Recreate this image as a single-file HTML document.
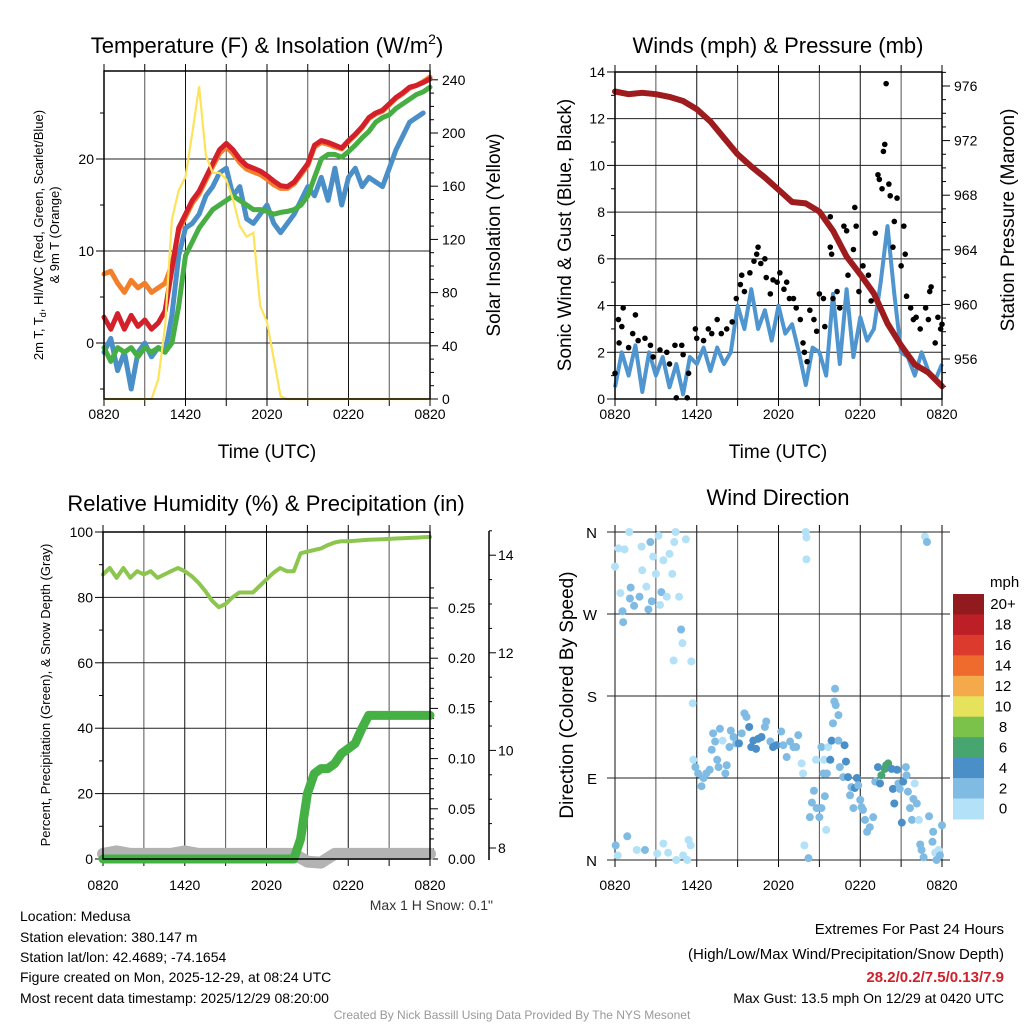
<!DOCTYPE html>
<html><head><meta charset="utf-8">
<style>
html,body{margin:0;padding:0;background:#fff;}
svg{display:block;font-family:"Liberation Sans",Arial,sans-serif;}
</style></head>
<body>
<svg id="chart" width="1024" height="1024" viewBox="0 0 1024 1024" xmlns="http://www.w3.org/2000/svg">
<rect width="1024" height="1024" fill="#fff"/>
<text x="267" y="53" font-size="22" text-anchor="middle">Temperature (F) &amp; Insolation (W/m<tspan font-size="14" dy="-9">2</tspan><tspan dy="9">)</tspan></text>
<text x="778" y="53" font-size="22" text-anchor="middle">Winds (mph) &amp; Pressure (mb)</text>
<text x="266" y="511" font-size="22" text-anchor="middle">Relative Humidity (%) &amp; Precipitation (in)</text>
<text x="778" y="505" font-size="22" text-anchor="middle">Wind Direction</text>

<text transform="translate(43,235) rotate(-90)" font-size="13" text-anchor="middle">2m T, T<tspan font-size="9" dy="3">d</tspan><tspan dy="-3">, HI/WC (Red, Green, Scarlet/Blue)</tspan></text>
<text transform="translate(59,235) rotate(-90)" font-size="13" text-anchor="middle">&amp; 9m T (Orange)</text>
<text transform="translate(500,235) rotate(-90)" font-size="19" text-anchor="middle">Solar Insolation (Yellow)</text>
<text x="267" y="458" font-size="19" text-anchor="middle">Time (UTC)</text>
<text transform="translate(571,235) rotate(-90)" font-size="19" text-anchor="middle">Sonic Wind &amp; Gust (Blue, Black)</text>
<text transform="translate(1014,220) rotate(-90)" font-size="19" text-anchor="middle">Station Pressure (Maroon)</text>
<text x="778" y="458" font-size="19" text-anchor="middle">Time (UTC)</text>
<text transform="translate(50,695) rotate(-90)" font-size="13" text-anchor="middle">Percent, Precipitation (Green), &amp; Snow Depth (Gray)</text>
<text transform="translate(573,695) rotate(-90)" font-size="19" text-anchor="middle">Direction (Colored By Speed)</text>

<text x="493" y="910" font-size="14" text-anchor="end" fill="#333">Max 1 H Snow: 0.1"</text>
<g font-size="14" fill="#000">
<text x="20" y="921">Location: Medusa</text>
<text x="20" y="942">Station elevation: 380.147 m</text>
<text x="20" y="962">Station lat/lon: 42.4689; -74.1654</text>
<text x="20" y="982">Figure created on Mon, 2025-12-29, at 08:24 UTC</text>
<text x="20" y="1003">Most recent data timestamp: 2025/12/29 08:20:00</text>
</g>
<g font-size="15" text-anchor="end">
<text x="1004" y="934">Extremes For Past 24 Hours</text>
<text x="1004" y="959">(High/Low/Max Wind/Precipitation/Snow Depth)</text>
<text x="1004" y="982" fill="#d0202a" font-weight="bold">28.2/0.2/7.5/0.13/7.9</text>
<text x="1004" y="1003" font-size="14">Max Gust: 13.5 mph On 12/29 at 0420 UTC</text>
</g>
<text x="512" y="1019" font-size="12" fill="#999" text-anchor="middle">Created By Nick Bassill Using Data Provided By The NYS Mesonet</text>
<g id="layer"></g>
</svg>
<script>
// ---------- data ----------
const timeLabels = ["0820","1420","2020","0220","0820"];
const halfHours = Array.from({length:49},(_, i)=>i*0.5);
// Temperature (F)
const tempRed = [2.8,1.5,3.2,1.5,3,1.8,2.5,1.5,2.2,3.5,8,12.5,14,15.5,16.5,18,19.5,21,21.7,21,20,19.3,19,18.7,18.2,17.6,17.1,17,17.5,18.5,19.5,21.5,22,21.8,21.5,21.2,22,22.7,23.5,24.5,25,25.3,26,26.7,27.2,27.8,28,28.3,28.7];
const temp9m = [7.5,7.8,6.5,5.5,6.8,6,6.5,5.5,6,6.5,8.5,12.2,13.7,15.2,16.2,17.7,19.2,20.6,21.3,20.6,19.6,18.9,18.6,18.3,17.8,17.2,16.8,16.8,17.3,18.3,19.3,21.3,21.8,21.6,21.3,21.1,21.9,22.6,23.4,24.4,24.9,25.2,25.9,26.6,27.1,27.7,28,28.4,28.9];
const dewGreen = [-0.5,-2,-0.5,-1,-0.5,-1.5,-0.5,-1,-0.5,-1,0,4,9.5,11,12.5,13.5,14.5,15,15.5,16,15.5,15,14.5,14.5,14.3,14,14.2,14.3,14.5,15,16,18,20,20.5,20.5,20.2,20.8,21.5,22.3,23,24,24.5,24.8,25.5,26,26.5,27,27.3,27.8];
const windChill = [-1,0.5,-3,-1,-5,-1,0,-1.5,-0.5,-1,3,9.5,12.5,13,14,16,17,18.5,19,16,17,13.5,13,14,15,13,12,13,14,15.5,17,16,18,15.5,19,15,18,19,17,18,17.5,17,19,21,22.5,24,24.5,25,null];
const solar = [0,0,0,0,0,0,0,0,15,55,135,157,167,200,235,183,170,170,165,150,130,122,125,70,58,30,2,0,0,0,0,0,0,0,0,0,0,0,0,0,0,0,0,0,0,0,0,0,0];
// Winds
const windSpeed = [0.5,2.0,1.0,2.3,0.3,2.0,1.0,1.8,0.5,1.5,0.2,1.8,1.5,2.2,1.2,2.2,1.5,2.0,4.0,3.0,4.7,3.0,3.8,2.5,4.0,2.8,3.2,2.0,0.6,2.2,2.0,1.0,4.5,1.5,4.7,1.8,3.5,2.5,3.0,5.0,7.4,4.5,2.0,1.8,1.0,2.0,1.2,0.8,1.5];
const hourly = Array.from({length:25},(_, i)=>i);
const pressure = [975.6,975.4,975.5,975.4,975.2,974.9,974.3,973.4,972.2,971.0,970.1,969.3,968.4,967.5,967.4,966.8,965.4,963.5,962.2,960.8,958.6,957.0,955.6,955.0,954.0];
const gustHours = [0,0.25,0.3,0.6,0.5,1.0,1.3,1.5,1.7,2.2,2.6,2.8,3.3,3.8,4.0,4.4,4.9,5.0,5.4,5.9,6.0,6.5,6.85,7.1,7.5,7.8,8.2,8.6,8.9,9.2,9.3,9.5,9.9,10.2,10.4,10.5,10.7,11.0,11.1,11.4,11.6,11.9,12.1,12.4,12.6,12.8,13.1,13.3,13.6,13.8,13.9,14.1,14.3,14.6,14.8,15.0,15.3,15.4,15.8,15.9,15.8,16.0,16.3,16.5,16.8,17.0,17.1,17.5,17.6,17.7,17.9,18.2,18.6,18.8,19.1,19.3,19.4,19.6,19.7,19.8,19.9,20.1,20.2,20.4,20.5,20.7,21.0,21.2,21.3,21.4,21.7,21.9,22.1,22.4,22.8,23.0,23.1,23.2,23.5,23.7,23.9,24.0,4.5,5.3];
const gustValues = [1.1,3.4,2.4,3.9,3.1,2.2,2.8,3.6,2.5,2.6,2.3,1.8,2.1,2.0,1.5,2.3,2.3,1.9,1.1,3.0,2.6,2.5,3.0,2.8,3.4,2.8,3.0,3.3,4.3,4.9,5.3,4.6,5.4,5.9,6.2,6.5,5.8,6.0,5.2,4.5,5.1,5.0,5.4,4.7,5.0,4.3,4.3,3.9,3.4,2.4,2.0,1.6,3.8,3.4,2.9,4.5,4.3,3.1,7.8,6.2,6.5,4.3,4.6,3.9,7.4,7.2,5.3,6.4,8.2,7.4,4.6,5.7,5.3,4.2,7.1,9.6,9.4,9.0,10.6,10.9,13.5,9.2,8.7,6.5,7.6,8.6,5.7,7.4,6.2,4.4,3.9,3.4,3.5,3.0,3.9,3.4,4.6,4.8,2.4,3.5,3.0,3.2,0.05,0.05];
// Humidity / precip / snow
const rh = [87,89,86,89,86,88,87,88,86,87,88,89,88,86.5,84.5,82,79,77,78,80,81.5,81.5,81.5,83.5,85.5,87.5,89,88,88,93.5,94,94.5,95,96,96.8,97.2,97.2,97.3,97.5,97.6,97.7,97.8,97.9,98,98.1,98.2,98.3,98.4,98.5];
const precip = [0,0,0,0,0,0,0,0,0,0,0,0,0,0,0,0,0,0,0,0,0,0,0,0,0,0,0,0,0,0.02,0.065,0.085,0.09,0.09,0.095,0.105,0.11,0.115,0.13,0.143,0.143,0.143,0.143,0.143,0.143,0.143,0.143,0.143,0.143];
const snowDepth = [7.88,7.93,7.88,7.88,7.88,7.88,7.93,7.88,7.88,7.88,7.88,7.88,7.88,7.88,7.88,7.72,7.7,7.88,7.88,7.88,7.88,7.88,7.88,7.88,7.88];
// Wind direction
const dirHours = [0,0.25,0.7,1.05,0.4,0.55,0.6,1.15,1.1,1.4,1.8,1.95,2.0,2.3,2.45,2.6,2.7,2.8,3.0,3.2,3.3,3.4,3.55,3.8,4.0,4.2,4.35,4.45,4.7,4.85,4.95,4.3,5.2,5.6,5.7,
0.05,0.2,0.9,1.6,2.2,3.1,3.55,3.9,4.5,5.0,5.3,5.4,5.55,
5.75,5.9,6.1,6.35,6.5,6.7,6.95,7.1,7.2,7.35,7.5,7.6,7.7,7.9,8.1,8.2,8.4,8.5,8.7,8.9,9.1,9.3,9.5,9.65,9.85,10.0,10.15,10.35,10.5,10.75,11.0,11.1,11.4,11.6,11.85,12.2,12.35,12.6,12.85,13.1,13.3,13.45,13.7,13.8,
14.0,14.05,14.05,13.9,14.2,14.3,14.45,14.6,14.8,15.0,15.15,15.3,15.4,15.5,14.75,15.15,15.35,15.55,15.65,15.8,15.9,16.0,16.1,16.15,16.2,16.4,16.4,16.5,16.75,16.85,16.95,17.1,17.25,17.35,17.5,17.6,17.75,17.85,18.0,18.1,18.2,18.35,18.5,18.7,18.95,19.1,19.3,19.45,19.55,19.8,19.9,20.05,20.3,20.4,20.5,20.7,20.8,20.9,21.05,21.15,21.35,21.4,21.5,21.65,21.8,21.9,22.0,22.15,22.3,22.4,22.5,22.65,22.75,22.9,23.05,23.3,23.35,23.5,23.6,23.75,23.85,24];
const dirDegrees = [322,342,341,360,293,273,261,299,287,279,289,344,318,300,275,349,284,333,314,356,280,294,329,289,336,314,349,360,289,253,238,219,352,218,172,
16,5,26,11,11,7,18,8,0,5,0,22,16,
110,102,95,81,90,95,99,121,139,130,110,102,144,131,95,104,124,142,135,128,128,139,161,157,146,124,131,122,133,135,146,152,130,124,126,141,126,113,130,124,124,137,106,95,
360,354,330,16,2,47,63,76,57,47,57,95,70,33,110,124,110,95,124,110,131,150,174,188,170,159,131,102,91,126,108,91,71,80,57,79,90,82,66,58,55,44,31,36,47,86,102,84,93,100,104,106,100,78,62,99,84,78,41,86,102,93,75,57,44,67,84,62,44,17,11,3,355,349,48,20,31,8,0,11,5,38];
const dirSpeeds = [1,1,1,1,1,3,3,3,3,3,3,1,1,1,3,3,3,1,1,1,1,3,1,1,1,1,1,1,1,3,1,1,1,1,1,
3,1,3,1,3,1,1,1,1,1,1,1,1,
1,3,3,3,3,3,3,3,3,3,3,3,3,1,3,3,3,3,3,3,5,3,3,3,5,5,5,5,5,5,3,3,3,5,5,3,3,3,3,3,3,3,1,1,
1,1,1,1,3,3,3,3,3,3,3,3,3,1,1,3,1,3,1,5,5,3,3,3,3,3,3,3,3,5,5,5,3,3,3,5,5,3,3,3,3,3,3,3,3,3,5,5,7,7,7,7,5,5,5,5,3,3,5,5,3,3,3,3,3,3,1,3,1,3,3,3,1,3,3,3,3,1,3,1,3,3,3];
const speedBins = ["0","2","4","6","8","10","12","14","16","18","20+"];
const binColors = ["#b3e1f7","#80bbe4","#4a8fc7","#47a66f","#7bc24b","#e7e25b","#f4a94b","#ef6a2d","#dc3a2c","#bc1f26","#911a1e"];

// ---------- helpers ----------
const NS="http://www.w3.org/2000/svg";
const layer=document.getElementById('layer');
function mk(tag,attrs,parent){const e=document.createElementNS(NS,tag);for(const k in attrs)e.setAttribute(k,attrs[k]);(parent||layer).appendChild(e);return e;}
function linePath(xs,ys,fx,fy){let d="";let pen=false;for(let i=0;i<xs.length;i++){if(ys[i]===null||ys[i]===undefined){pen=false;continue;}d+=(pen?"L":"M")+fx(xs[i]).toFixed(1)+","+fy(ys[i]).toFixed(1);pen=true;}return d;}

function timeAxis(name,x0,x1,yTop,yBot,labelY){
  const g=mk('g',{});
  
  
  const fx=h=>x0+(x1-x0)*h/24;
  for(let k=0;k<=8;k++){
    const x=fx(k*3);
    mk('line',{x1:x,y1:yTop,x2:x,y2:yBot,stroke:(k%2?'#555':'#111'),'stroke-width':1},g);
    mk('line',{x1:x,y1:yTop-7,x2:x,y2:yTop,stroke:'#000','stroke-width':1},g);
    mk('line',{x1:x,y1:yBot,x2:x,y2:yBot+7,stroke:'#000','stroke-width':1},g);
  }
  for(let k=0;k<timeLabels.length;k++){
    const t=mk('text',{x:fx(k*6),y:labelY,'font-size':14,'text-anchor':'middle'});
    
    
    t.textContent=timeLabels[k];
  }
  return fx;
}
function hGrid(g,x0,x1,y){mk('line',{x1:x0,y1:y,x2:x1,y2:y,stroke:'#222','stroke-width':1},g);}
function frame(name,x0,x1,yTop,yBot){
  const r=mk('rect',{x:x0,y:yTop,width:x1-x0,height:yBot-yTop,fill:'none',stroke:'#000','stroke-width':1.5});
  
  
}
function tick(g,x,y,len,dir){mk('line',{x1:x,y1:y,x2:x+dir*len,y2:y,stroke:'#000','stroke-width':1},g);}
function label(txt,x,y,anchor,size,name){const t=mk('text',{x:x,y:y,'font-size':size||14,'text-anchor':anchor});t.textContent=txt;return t;}

// ---------- Panel 1: temperature ----------
(function(){
  const x0=104,x1=430,yT=71,yB=399;
  const fx=timeAxis('temp',x0,x1,yT,yB,419);
  const fy=v=>343-v*9.2, fs=s=>399-s*1.33;
  const g=mk('g',{});
  
  
  [0,10,20].forEach(v=>{hGrid(g,x0,x1,fy(v));tick(g,x0,fy(v),8,-1);label(String(v),x0-10,fy(v)+5,'end',14,'temp-y-tick-label');});
  [-5,5,15,25].forEach(v=>tick(g,x0,fy(v),4,-1));
  for(let s=0;s<=240;s+=10){tick(g,x1,fs(s),s%40===0?8:4,1);}
  for(let s=0;s<=240;s+=40){label(String(s),x1+12,fs(s)+5,'start',14,'solar-y-tick-label');}
  const series=[[temp9m,'#f47f2a','nine-meter-temp-line'],[windChill,'#4a8fc8','wind-chill-line'],[dewGreen,'#47ae44','dewpoint-line'],[tempRed,'#d3202a','temperature-line']];
  series.forEach(s=>{const p=mk('path',{d:linePath(halfHours,s[0],fx,fy),fill:'none',stroke:s[1],'stroke-width':5,'stroke-linejoin':'round','stroke-linecap':'round'});
    
    });
  const sp=mk('path',{d:linePath(halfHours,solar,fx,fs),fill:'none',stroke:'#fde35c','stroke-width':2.2});
  
  
  frame('temp',x0,x1,yT,yB);
})();

// ---------- Panel 2: winds ----------
(function(){
  const x0=615,x1=942,yT=72,yB=399;
  const fx=timeAxis('wind',x0,x1,yT,yB,419);
  const fy=v=>399-v*23.36, fp=p=>359-(p-956)*13.65;
  const g=mk('g',{});
  
  
  for(let v=0;v<=14;v++){tick(g,x0,fy(v),v%2?4:8,-1);if(v%2===0){if(v>0&&v<14)hGrid(g,x0,x1,fy(v));label(String(v),x0-10,fy(v)+5,'end',14,'wind-y-tick-label');}}
  for(let p=954;p<=977;p++){tick(g,x1,fp(p),p%4===0?8:4,1);}
  for(let p=956;p<=976;p+=4){label(String(p),x1+12,fp(p)+5,'start',14,'pressure-y-tick-label');}
  const wp=mk('path',{d:linePath(halfHours,windSpeed,fx,fy),fill:'none',stroke:'#4f95cf','stroke-width':4,'stroke-linejoin':'round'});
  
  
  const pp=mk('path',{d:linePath(hourly,pressure,fx,fp),fill:'none',stroke:'#9e1b1e','stroke-width':6,'stroke-linejoin':'round','stroke-linecap':'round'});
  
  
  const gg=mk('g',{fill:'#000'});
  
  
  for(let i=0;i<gustHours.length;i++){
    const c=mk('circle',{cx:fx(gustHours[i]),cy:fy(gustValues[i]),r:2.8},gg);
    
    
  }
  frame('wind',x0,x1,yT,yB);
})();

// ---------- Panel 3: humidity ----------
(function(){
  const x0=103,x1=430,yT=532,yB=859;
  const fx=timeAxis('rh',x0,x1,yT,yB,890);
  const fy=v=>859-v*3.27, fp=p=>859-p*1004, fsn=s=>848-(s-8)*48.8;
  const g=mk('g',{});
  
  
  for(let v=0;v<=100;v+=10){tick(g,x0,fy(v),v%20?4:8,-1);if(v%20===0){if(v>0&&v<100)hGrid(g,x0,x1,fy(v));label(String(v),x0-10,fy(v)+5,'end',14,'rh-y-tick-label');}}
  for(let k=0;k<=27;k++){const p=k*0.01;tick(g,x1,fp(p),k%5?4:8,1);}
  for(let k=0;k<=5;k++){label((k*0.05).toFixed(2),x1+18,fp(k*0.05)+5,'start',14,'precip-y-tick-label');}
  mk('line',{x1:489,y1:531,x2:489,y2:860,stroke:'#000','stroke-width':1.5},g);
  for(let s=8;s<=14.5;s+=0.5){tick(g,489,fsn(s),s%2===0?7:3,1);}
  for(let s=8;s<=14;s+=2){label(String(s),498,fsn(s)+5,'start',14,'snow-y-tick-label');}
  const sp=mk('path',{d:linePath(hourly,snowDepth,fx,fsn),fill:'none',stroke:'#b3b3b3','stroke-width':12,'stroke-linecap':'round','stroke-linejoin':'round'});
  
  
  const pp=mk('path',{d:linePath(halfHours,precip,fx,fp),fill:'none',stroke:'#45b145','stroke-width':9,'stroke-linecap':'round','stroke-linejoin':'round'});
  
  
  const rp=mk('path',{d:linePath(halfHours,rh,fx,fy),fill:'none',stroke:'#8dc64f','stroke-width':4,'stroke-linejoin':'round','stroke-linecap':'round'});
  
  
  frame('rh',x0,x1,yT,yB);
})();

// ---------- Panel 4: direction ----------
(function(){
  const x0=615,x1=942,yT=532,yB=860;
  const fx=timeAxis('direction',x0,x1,yT,yB,890);
  const fy=d=>860-d*0.9111;
  const g=mk('g',{});
  
  
  const dl=["N","E","S","W","N"];
  for(let k=0;k<5;k++){const y=fy(k*90);mk('line',{x1:x0-8,y1:y,x2:x1+8,y2:y,stroke:'#222','stroke-width':1},g);label(dl[k],597,y+6,'end',15,'direction-tick-label');}
  const pg=mk('g',{});
  
  
  for(let i=0;i<dirHours.length;i++){
    const bin=Math.min(10,Math.floor(dirSpeeds[i]/2));
    const c=mk('circle',{cx:fx(dirHours[i]),cy:fy(dirDegrees[i]),r:4,fill:binColors[bin]},pg);
    
    
  }
  // colorbar
  const cb=mk('g',{});
  
  
  const top=594,h=20.45;
  label('mph',990,587,'start',15,'colorbar-unit-label');
  for(let k=0;k<speedBins.length;k++){
    const idx=speedBins.length-1-k;
    mk('rect',{x:953,y:top+k*h,width:31,height:h+0.5,fill:binColors[idx]},cb);
    label(speedBins[idx],1003,top+k*h+h/2+5,'middle',15,'colorbar-label');
  }
})();
</script>
</body></html>
